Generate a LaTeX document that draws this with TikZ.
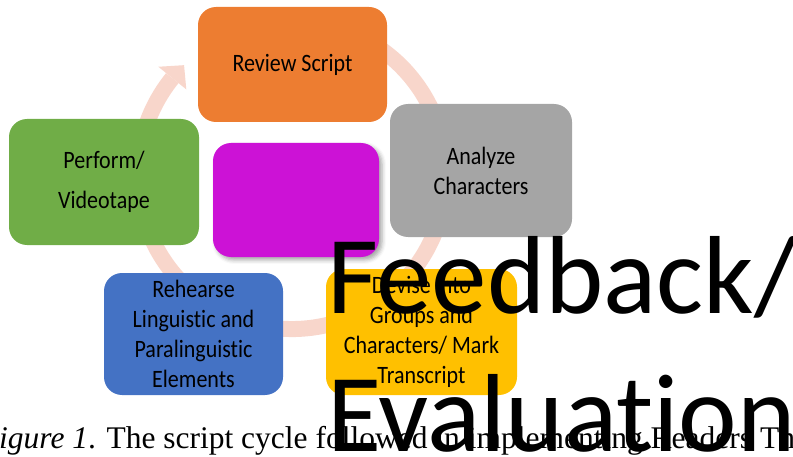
\documentclass[tikz,border=0pt]{standalone}
\usepackage{fontspec}
\setmainfont{Carlito}[Ligatures=NoCommon]
\newfontfamily\boxfont{Carlito}[FakeStretch=0.88, Ligatures=NoCommon]
\newfontfamily\capfont{Liberation Serif}
\usetikzlibrary{calc,shadows.blur}

\definecolor{ringpink}{RGB}{248,214,203}
\definecolor{cOrange}{RGB}{237,125,49}
\definecolor{cGray}{RGB}{165,165,165}
\definecolor{cGreen}{RGB}{112,173,71}
\definecolor{cBlue}{RGB}{68,114,196}
\definecolor{cYellow}{RGB}{255,192,0}
\definecolor{cMagenta}{RGB}{204,18,214}

\begin{document}
\begin{tikzpicture}[x=1pt,y=1pt,
  cyclebox/.style={rounded corners=18pt, inner sep=0pt, align=center,
    font=\boxfont\fontsize{25}{30}\selectfont, text=black},
  bigtext/.style={anchor=base west, inner sep=0pt,
    font=\normalfont\fontsize{111}{134}\selectfont, text=black},
]
\useasboundingbox (0,0) rectangle (793,456);
\clip (0,0) rectangle (793,456);

% circular arrow behind the steps
\coordinate (ctr) at (292,281);
\draw[ringpink, line width=16pt]
  ($(ctr)+(470:154)$) arc[start angle=470, end angle=141, radius=154pt];
\fill[ringpink] ($(ctr)+(141:136)$) -- ($(ctr)+(141:172)$)
  -- ($(ctr)+(134.5:154)$) -- cycle;

% steps of the cycle
\node[cyclebox, fill=cOrange, minimum width=189pt, minimum height=115pt]
  (review) at (292.5,391.5) {Review Script};
\node[cyclebox, fill=cGray, minimum width=182pt, minimum height=133pt]
  (analyze) at (481,285.5) {Analyze\\Characters};
\node[cyclebox, fill=cYellow, minimum width=191pt, minimum height=126pt]
  (devise) at (421.5,124) {Devise into\\Groups and\\Characters/ Mark\\Transcript};
\node[cyclebox, fill=cBlue, minimum width=179pt, minimum height=122pt]
  (rehearse) at (193.5,122) {Rehearse\\Linguistic and\\Paralinguistic\\Elements};
\node[cyclebox, fill=cGreen, minimum width=190pt, minimum height=126pt]
  (perform) at (104,274) {Perform/\\[10pt]Videotape};

% central step
\node[cyclebox, fill=cMagenta, minimum width=166pt, minimum height=114pt,
  blur shadow={shadow xshift=3pt, shadow yshift=-3pt, shadow blur radius=4pt,
  shadow opacity=35}]
  (hub) at (296,256) {};

% caption
\node[anchor=base west, inner sep=0pt, font=\capfont\fontsize{31.5}{36}\selectfont]
  (caption) at (-1,8) {\textit{igure 1}. The script cycle followed in implementing Readers Th};

% label of the central step
\node[bigtext] (fb1) at (327,143) {Feedback/};
\node[bigtext] (fb2) at (327,5) {Evaluation};
\end{tikzpicture}
\end{document}
